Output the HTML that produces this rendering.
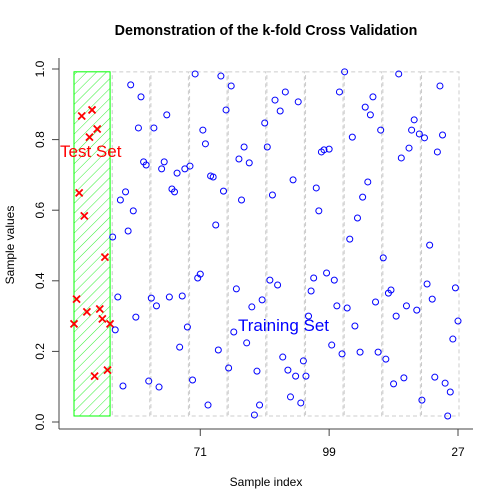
<!DOCTYPE html>
<html><head><meta charset="utf-8"><style>
body{margin:0;background:#fff}
svg{display:block;font-family:"Liberation Sans",sans-serif}
</style></head><body>
<svg id="chart" width="504" height="504" viewBox="0 0 504 504">
<defs>
<pattern id="hatch" patternUnits="userSpaceOnUse" width="7" height="7" patternTransform="rotate(-45)">
<line x1="0" y1="0" x2="0" y2="7" stroke="#00ee00" stroke-width="0.8" transform="rotate(90 3.5 3.5)"/>
</pattern>
</defs>
<text x="266" y="35" text-anchor="middle" font-size="14.3" font-weight="bold">Demonstration of the k-fold Cross Validation</text>
<g id="axes"></g>
<g id="folds"></g>
<g id="marks"></g>
<text x="60" y="157" font-size="17" fill="#ff0000">Test Set</text>
<text x="238" y="331" font-size="17" fill="#0000ff">Training Set</text>
<text x="266" y="486" text-anchor="middle" font-size="12">Sample index</text>
<text x="14" y="245" text-anchor="middle" font-size="12" transform="rotate(-90 14 245)">Sample values</text>
</svg>
<script>
const sampleValues = [
.278,.348,.649,.867,.584,.312,.807,.884,.130,.830,.320,.292,.467,.147,.278,
.524,.261,.354,.629,.102,.652,.541,.955,.598,.297,.833,.921,.737,.728,.116,
.351,.833,.329,.099,.717,.737,.870,.354,.660,.652,.705,.212,.357,.717,.269,
.725,.119,.986,.408,.419,.827,.788,.048,.697,.694,.558,.204,.980,.654,.884,
.153,.952,.255,.377,.745,.629,.779,.224,.734,.326,.020,.144,.048,.346,.847,
.779,.402,.643,.912,.388,.881,.184,.935,.147,.071,.686,.130,.907,.054,.173,
.130,.300,.371,.408,.663,.598,.765,.771,.422,.773,.218,.402,.329,.935,.193,
.992,.323,.518,.807,.272,.578,.198,.637,.892,.680,.870,.921,.340,.198,.827,
.465,.178,.365,.374,.108,.300,.986,.748,.125,.329,.776,.827,.856,.317,.816,
.062,.805,.391,.501,.348,.127,.765,.952,.813,.110,.017,.085,.235,.380,.286];
const foldSize = 15;
const testFold = 0;
const xTickIndex = [50, 100, 150];
const xTickLabels = ["71", "99", "27"];
const yTicks = [0, 0.2, 0.4, 0.6, 0.8, 1.0];
const yTickLabels = ["0.0", "0.2", "0.4", "0.6", "0.8", "1.0"];

const NS = "http://www.w3.org/2000/svg";
const n = sampleValues.length;
const xs = i => 74 + (i - 1) * (458 - 74) / (n - 1);
const ys = v => 422 - v * 353;
function mk(tag, attrs, parent){const e=document.createElementNS(NS,tag);for(const k in attrs)e.setAttribute(k,attrs[k]);parent.appendChild(e);return e;}
const axes=document.getElementById('axes'), folds=document.getElementById('folds'), marks=document.getElementById('marks');

let e;
e=mk('line',{x1:59,y1:58,x2:59,y2:429,stroke:'#444'},axes);


e=mk('line',{x1:59,y1:429,x2:473,y2:429,stroke:'#444'},axes);


yTicks.forEach((t,k)=>{
  const y=ys(t);
  e=mk('line',{x1:52,y1:y,x2:59,y2:y,stroke:'#444'},axes);
  
  
  e=mk('text',{x:44,y:y,'text-anchor':'middle','font-size':12,transform:`rotate(-90 44 ${y})`},axes);
  e.textContent=yTickLabels[k];
  
  
});
xTickIndex.forEach((t,k)=>{
  const x=xs(t);
  e=mk('line',{x1:x,y1:429,x2:x,y2:436,stroke:'#444'},axes);
  
  
  e=mk('text',{x:x,y:456,'text-anchor':'middle','font-size':12},axes);
  e.textContent=xTickLabels[k];
  
  
});

const vmin=Math.min(...sampleValues), vmax=Math.max(...sampleValues);
const nf=Math.ceil(n/foldSize);
for(let f=0;f<nf;f++){
  const a=f*foldSize+1, b=Math.min(n,(f+1)*foldSize);
  const x1=xs(a), x2=xs(b);
  if(f===testFold){
    e=mk('rect',{x:x1,y:ys(vmax),width:x2-x1,height:ys(vmin)-ys(vmax),fill:'url(#hatch)',stroke:'#00ff00','stroke-width':1},folds);
    
    
  } else {
    e=mk('rect',{x:x1-0.4,y:ys(vmax),width:x2-x1+1.4,height:ys(vmin)-ys(vmax),fill:'none',stroke:'#cccccc','stroke-width':1,'stroke-dasharray':'4 3'},folds);
    
    
  }
}
sampleValues.forEach((v,k)=>{
  const i=k+1, x=xs(i), y=ys(v);
  const inTest=Math.floor(k/foldSize)===testFold;
  if(inTest){
    const s=3.5;
    e=mk('path',{d:`M${x-s},${y-s}L${x+s},${y+s}M${x-s},${y+s}L${x+s},${y-s}`,stroke:'#ff0000','stroke-width':1.8,fill:'none'},marks);
    
    
  } else {
    e=mk('circle',{cx:x,cy:y,r:3,fill:'none',stroke:'#0000ff','stroke-width':1},marks);
    
    
  }
});
</script>
</body></html>
